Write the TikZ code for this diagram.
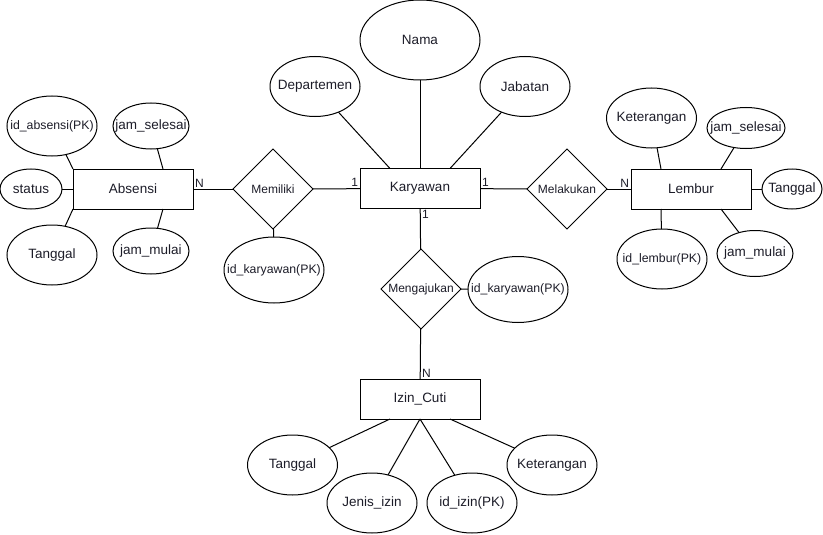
\documentclass[tikz,border=0pt]{standalone}
\usepackage{fontspec}
\setmainfont{Liberation Sans}
\usepackage{tikz}
\usetikzlibrary{positioning,shapes}
\usepackage{xcolor}
\definecolor{txt}{HTML}{1C1C28}
\newcommand{\ertext}[1]{\makebox[0pt]{#1}}

\begin{document}
\begin{tikzpicture}[%
        x=1pt, y=-1pt,
        line width=1pt,
        every node/.style={text=txt, inner sep=0pt, outer sep=0pt, font=\fontsize{13.5}{16}\selectfont},
        entity/.style={draw, rectangle, minimum width=120pt, minimum height=40pt},
        attr/.style={draw, ellipse, minimum width=90pt, minimum height=60pt},
        rel/.style={draw, diamond, minimum width=80pt, minimum height=80pt, font=\fontsize{12}{14}\selectfont},
        card/.style={inner sep=2pt, font=\fontsize{12}{14}\selectfont},
        small/.style={font=\fontsize{12.3}{14}\selectfont}
      ]
      \useasboundingbox (0,0) rectangle (823,535);
      % entitas
      \node [entity] (kar) at (420,188.5) {\ertext{Karyawan}};
      \node [entity] (abs) at (133,189) {\ertext{Absensi}};
      \node [entity] (lem) at (691,189) {\ertext{Lembur}};
      \node [entity] (izin) at (420,399) {\ertext{Izin\_Cuti}};
      % relasi
      \node [rel] (mil) at (273,189) {\ertext{Memiliki}};
      \node [rel] (lak) at (567,189) {\ertext{Melakukan}};
      \node [rel] (aju) at (421,289) {\ertext{Mengajukan}};
      % atribut karyawan
      \node [attr] (nama) at (420,40) [minimum width=120pt, minimum height=80pt] {\ertext{Nama}};
      \node [attr] (dep) at (315,86.5) {\ertext{Departemen}};
      \node [attr] (jab) at (525,86.5) {\ertext{Jabatan}};
      % atribut absensi
      \node [attr] (idabs) at (52,126) [small] {\ertext{id\_absensi(PK)}};
      \node [attr] (selabs) at (151,126) [minimum width=76pt, minimum height=46pt] {\ertext{jam\_selesai}};
      \node [attr] (sta) at (31,189) [minimum width=62pt, minimum height=40pt] {\ertext{status}};
      \node [attr] (tglabs) at (52,255) {\ertext{Tanggal}};
      \node [attr] (mulabs) at (151,251) [minimum width=76pt, minimum height=46pt] {\ertext{jam\_mulai}};
      \node [attr] (idkar1) at (274,270) [small, minimum width=100pt, minimum height=66pt] {\ertext{id\_karyawan(PK)}};
      % atribut lembur
      \node [attr] (ketlem) at (651.5,118) {\ertext{Keterangan}};
      \node [attr] (sellem) at (746,128) [minimum width=78pt, minimum height=41pt] {\ertext{jam\_selesai}};
      \node [attr] (tgllem) at (792,189) [minimum width=60pt, minimum height=40pt] {\ertext{Tanggal}};
      \node [attr] (idlem) at (662,259) [small] {\ertext{id\_lembur(PK)}};
      \node [attr] (mullem) at (755,253.5) [minimum width=76pt, minimum height=46pt] {\ertext{jam\_mulai}};
      % atribut izin cuti
      \node [attr] (idkar2) at (518,289.5) [small, minimum width=100pt, minimum height=66pt] {\ertext{id\_karyawan(PK)}};
      \node [attr] (tglizin) at (292.5,465) {\ertext{Tanggal}};
      \node [attr] (jenis) at (372,503) {\ertext{Jenis\_izin}};
      \node [attr] (idizin) at (472,503) {\ertext{id\_izin(PK)}};
      \node [attr] (ketizin) at (552,465) {\ertext{Keterangan}};
      % kardinalitas
      \node [card, anchor=south west] (c1) at (abs.east) {N};
      \node [card, anchor=south east] (c2) at (kar.west) {1};
      \node [card, anchor=south west] (c3) at (kar.east) {1};
      \node [card, anchor=south east] (c4) at (lem.west) {N};
      \node [card, anchor=north west] (c5) at (kar.south) {1};
      \node [card, anchor=south west] (c6) at (izin.north) {N};
      \path [draw] (abs) edge (mil)
      (mil) edge (kar)
      (kar) edge (lak)
      (lak) edge (lem)
      (kar) edge (aju)
      (aju) edge (izin);
      \path [draw] (nama) edge (kar)
      (dep) edge ([xshift=-30pt]kar.north)
      (jab) edge ([xshift=30pt]kar.north)
      (idabs) edge (abs.north west)
      (selabs) edge ([xshift=30pt]abs.north)
      (sta) edge (abs)
      (tglabs) edge (abs.south west)
      (mulabs) edge ([xshift=30pt]abs.south)
      (mil) edge (idkar1)
      (ketlem) edge ([xshift=-30pt]lem.north)
      (sellem) edge ([xshift=30pt]lem.north)
      (lem) edge (tgllem)
      (idlem) edge ([xshift=-30pt]lem.south)
      (mullem) edge ([xshift=30pt]lem.south)
      (aju) edge (idkar2)
      (tglizin) edge ([xshift=-30pt]izin.south)
      (jenis) edge (izin.south)
      (idizin) edge (izin.south)
      (ketizin) edge ([xshift=30pt]izin.south);
    \end{tikzpicture}
\end{document}
